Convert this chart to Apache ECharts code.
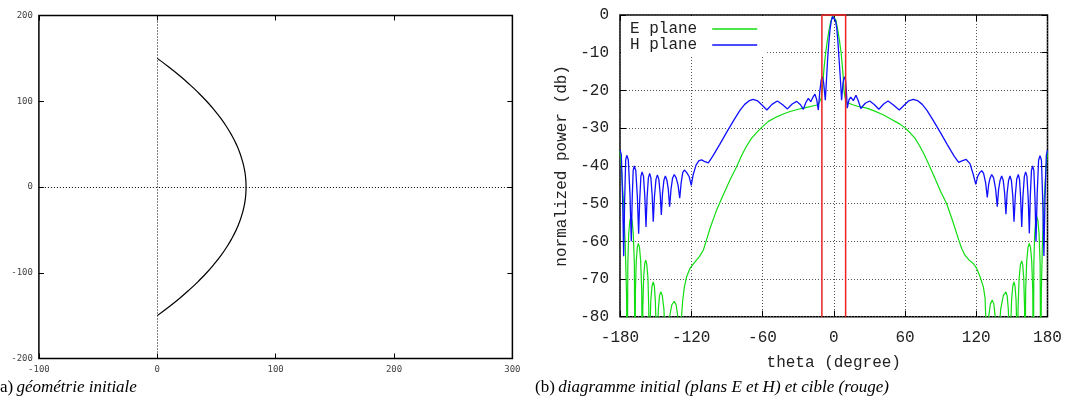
<!DOCTYPE html>
<html><head><meta charset="utf-8">
<script src="https://cdn.jsdelivr.net/npm/echarts/dist/echarts.min.js"></script>
<style>html,body{margin:0;padding:0;background:#fff}#c{width:1067px;height:402px}</style>
</head><body><div id="c"></div>
<script>
// ---- (a) initial geometry ----
const geomY = [150,140,130,120,110,100,90,80,70,60,50,40,30,20,10,0,-10,-20,-30,-40,-50,-60,-70,-80,-90,-100,-110,-120,-130,-140,-150];
const geomX = [0,9.7,18.7,27,34.7,41.7,48,53.7,58.7,63,66.7,69.7,72,73.7,74.7,75,74.7,73.7,72,69.7,66.7,63,58.7,53.7,48,41.7,34.7,27,18.7,9.7,0];
const geomXTicks = [-100, 0, 100, 200, 300];
const geomYTicks = [-200, -100, 0, 100, 200];

// ---- (b) radiation pattern: [theta (deg), power (dB)] ----
const ePlane = [
[-180,-36],[-178.5,-42],[-177,-50],[-175.5,-62],[-174.5,-74],[-173.9,-100],
[-173.4,-66.1],[-172.7,-58.1],[-171.7,-54.5],[-170.8,-53.5],[-169.8,-54.5],[-168.8,-58.1],[-167.9,-66.1],[-167.4,-100],
[-167,-73.2],[-166.3,-65.2],[-165.4,-61.6],[-164.6,-60.6],[-163.6,-61.6],[-162.6,-65.2],[-161.7,-73.2],[-161.2,-100],
[-160.8,-77.6],[-160.1,-69.6],[-159.2,-66],[-158.4,-65],[-157.5,-66],[-156.5,-69.6],[-155.8,-77.6],[-155.3,-100],
[-154.8,-83.4],[-154,-75.4],[-153,-71.8],[-152,-70.8],[-151.1,-71.8],[-150.3,-75.4],[-149.5,-83.4],[-149.1,-100],
[-148.6,-86],[-147.7,-78],[-146.7,-74.4],[-145.7,-73.4],[-144.4,-74.4],[-143,-78],[-142,-86],[-141.3,-100],
[-140.25,-88.5],[-138.5,-80.5],[-136.4,-76.9],[-134.3,-75.9],[-132.7,-76.9],[-131.1,-80.5],[-129.7,-88.5],[-128.9,-100],
[-128.2,-80],[-127.2,-75.7],[-125.8,-72.1],[-123.9,-69.4],[-121.1,-67.2],[-117,-65.5],[-113,-64],[-109.8,-62.3],[-107,-59.5],
[-104.2,-56.6],[-99,-52],[-93.1,-47.7],[-87,-43.5],[-81.9,-40.3],[-77.5,-37.2],[-73.5,-34.8],[-69.3,-32.7],[-65,-31.2],
[-60,-29.6],[-55,-28.2],[-48,-27],[-42,-26.2],[-36.8,-25.6],[-30,-25],[-25.6,-24.7],[-20,-24.3],[-16,-24],[-13.2,-23.8],[-11.6,-23.3],
[-10.5,-22],[-9.6,-20],[-8.8,-16.5],[-8,-13.5],[-6.8,-10],[-5.5,-7],[-4,-4],[-2.5,-1.7],[-1,-0.3],[-0.4,0],[0.3,-0.2],
[1.8,-1.3],[3.3,-3.8],[4.8,-6.8],[6.2,-10],[7.2,-13.5],[8,-16.5],[8.6,-20],[9.6,-22],[11,-23.2],[12.3,-23.5],[16,-23.8],
[20,-24.2],[27.7,-24.7],[33,-25.3],[42,-26.5],[48,-27.6],[55,-28.8],[60.3,-30],[64.5,-31.3],[68.5,-32.7],[72.5,-34.8],
[76.5,-37.2],[81,-40.3],[85.5,-43.5],[90,-46.8],[95,-50],[100,-54.5],[105.3,-59.7],[107.8,-62],[110.5,-63.7],[114,-65],
[117.5,-65.9],[120.4,-67.2],[123.2,-69.4],[126,-72.1],[127.4,-75],[128,-80],[128.3,-100],
[129.1,-88.2],[130.4,-80.2],[131.9,-76.6],[133.5,-75.6],[134.8,-76.6],[136,-80.2],[137.1,-88.2],[137.7,-100],
[138.8,-86],[140.6,-78],[142.8,-74.4],[145,-73.4],[146,-74.4],[147,-78],[147.9,-86],[148.4,-100],
[148.9,-83.4],[149.8,-75.4],[150.8,-71.8],[151.8,-70.8],[152.6,-71.8],[153.5,-75.4],[154.2,-83.4],[154.6,-100],
[155.2,-77.8],[156.1,-69.8],[157.2,-66.2],[158.3,-65.2],[159.1,-66.2],[160,-69.8],[160.7,-77.8],[161.1,-100],
[161.6,-73.2],[162.5,-65.2],[163.6,-61.6],[164.7,-60.6],[165.7,-61.6],[166.7,-65.2],[167.6,-73.2],[168.1,-100],
[168.5,-66.1],[169.2,-58.1],[170.1,-54.5],[170.9,-53.5],[171.9,-54.5],[172.9,-58.1],[173.8,-66.1],[174.3,-100],
[174.8,-74],[175.6,-62],[177,-50],[178.5,-42],[180,-36]
];
const hPlane = [
[-180,-35.8],[-178.9,-37],[-177.8,-48.5],[-176.9,-64],
[-176.1,-49.3],[-175.2,-38.4],[-174.3,-37.2],[-173,-38.4],[-171.6,-47.5],[-170.5,-60],
[-169.75,-49],[-168.9,-41.2],[-168,-40],[-166.7,-41.2],[-165.4,-48.1],[-164.3,-58],
[-163.4,-49],[-162.4,-42.8],[-161.4,-41.6],[-160.2,-42.8],[-159.1,-48.2],[-158.1,-56.2],
[-157.2,-48.4],[-156.1,-43.2],[-155,-42],[-154,-43.2],[-152.9,-47.8],[-152,-54.8],
[-150.95,-48],[-149.7,-43.6],[-148.5,-42.4],[-147.3,-43.6],[-146.2,-47.2],[-145.2,-53],
[-144.2,-47.3],[-143,-43.8],[-141.8,-42.7],[-140.5,-43.8],[-139.3,-46.3],[-138.2,-50.8],
[-137,-46.1],[-135.7,-43.2],[-134.3,-42.3],[-132.7,-43.2],[-131.1,-45.1],[-129.7,-48.6],
[-128.5,-44.5],[-127.2,-41.8],[-125.8,-41.1],[-123.8,-41.8],[-121.7,-42.9],[-120,-45.2],
[-118.5,-42.5],[-116,-39.8],[-113.5,-38.6],[-111.2,-38.4],[-108.5,-38.9],[-105.6,-39.2],
[-102,-37.5],[-96,-34.3],[-90,-31],[-84,-27.8],[-79,-25.3],[-75,-23.7],[-71,-22.7],[-68,-22.4],[-64,-22.8],[-60,-24],
[-56.3,-25.2],[-52,-23.7],[-47.5,-22.8],[-43,-23.8],[-39,-24.9],[-35,-23.6],[-31.2,-22.9],[-28,-23.8],[-25.6,-25],
[-23.5,-23.2],[-21.4,-22.1],[-19.4,-23],[-17.5,-21.8],[-15.8,-21],[-14.3,-22.5],[-13,-25.2],[-11.8,-20.5],[-10.6,-17.2],
[-9.6,-16.4],[-8.5,-18],[-7.1,-22.6],[-6,-16.5],[-5.1,-11.4],[-4,-6.8],[-3,-3.5],[-2,-1.5],[-1,-0.4],[-0.3,-0.1],
[0.5,-0.4],[1.5,-1.5],[2.5,-3.5],[3.5,-7],[4.4,-11.4],[5.5,-16.5],[6.6,-22.6],[7.8,-18],[8.9,-16.4],[9.9,-17.2],
[10.6,-20],[11.4,-24.7],[12.8,-22.5],[14.3,-21.8],[16.5,-22.7],[18.7,-21.3],[20.5,-22.6],[22.8,-24.8],[26.5,-23.4],
[30.3,-22.8],[34.3,-23.8],[38,-25],[42,-23.6],[45.7,-22.8],[50,-23.8],[55.2,-25.2],[59,-24],[63,-22.8],[67,-22.4],
[70.5,-22.7],[74.5,-23.7],[78.5,-25.3],[83.5,-27.8],[89.5,-31],[95.5,-34.3],[101.5,-37.5],[105.2,-39.1],[108.5,-38.6],
[111.5,-38.3],[114.7,-39.4],[117.5,-42.3],[119.6,-44.9],
[121.1,-42.9],[122.9,-41.8],[124.6,-41.3],[126.2,-42],[127.9,-44.5],[129.3,-48.4],
[130.4,-45],[131.7,-43.2],[133,-42.3],[134.6,-43.2],[136.3,-46.1],[137.7,-50.8],
[138.8,-46.3],[140.1,-43.8],[141.4,-42.7],[142.7,-43.8],[143.9,-47.2],[145,-52.8],
[146,-47.2],[147.2,-43.9],[148.4,-42.7],[149.6,-43.9],[150.8,-48.1],[151.8,-54.8],
[152.9,-47.9],[154.1,-43.5],[155.4,-42.3],[156.4,-43.5],[157.4,-48.6],[158.3,-56.2],
[159.3,-48.2],[160.5,-42.8],[161.6,-41.6],[162.7,-42.8],[163.8,-48.9],[164.7,-57.9],
[165.5,-48.1],[166.5,-41.2],[167.5,-40],[168.5,-41.2],[169.5,-49],[170.3,-60.1],
[171.3,-47.6],[172.5,-38.5],[173.7,-37.3],[174.9,-38.5],[176,-49.3],[177,-63.9],
[177.9,-48.5],[179,-37.3],[180,-35.8]
];
const targetTheta = [-10, -10, 10, 10];
const targetDb = [-80, 0, 0, -80];
const thetaTicks = [-180, -120, -60, 0, 60, 120, 180];
const dbTicks = [-80, -70, -60, -50, -40, -30, -20, -10, 0];

const MONO = 'Liberation Mono';
function ax(extra) {
  return Object.assign({
    type: 'value',
    axisLine: { show: false, onZero: false },
    axisTick: { show: true, inside: true, length: 5, lineStyle: { color: '#000', width: 1 } },
    splitLine: { show: false },
    axisLabel: { show: false }
  }, extra);
}
const smallLabel = { show: true, fontFamily: 'DejaVu Sans Mono', fontSize: 9, color: '#444' };
const bigLabel = { show: true, fontFamily: MONO, fontSize: 16, color: '#222' };
const gridSplit = { show: true, lineStyle: { color: '#555', type: [1, 2], width: 1 } };
const bigTick = { show: true, inside: true, length: 6, lineStyle: { color: '#000' } };

const chart = echarts.init(document.getElementById('c'), null, { renderer: 'canvas' });
chart.setOption({
  animation: false,
  backgroundColor: '#fff',
  grid: [
    { left: 38.9, top: 15.5, width: 473.5, height: 343, show: true, borderColor: '#000', borderWidth: 1.5, backgroundColor: 'transparent', outerBoundsMode: 'none', containLabel: false },
    { left: 620, top: 15, width: 427.5, height: 301.7, show: true, borderColor: '#000', borderWidth: 1.5, backgroundColor: 'transparent', outerBoundsMode: 'none', containLabel: false }
  ],
  xAxis: [
    ax({ gridIndex: 0, position: 'bottom', min: geomXTicks[0], max: geomXTicks[geomXTicks.length - 1], interval: geomXTicks[1] - geomXTicks[0], axisLabel: Object.assign({ margin: 7 }, smallLabel) }),
    ax({ gridIndex: 0, position: 'top', min: geomXTicks[0], max: geomXTicks[geomXTicks.length - 1], interval: geomXTicks[1] - geomXTicks[0] }),
    ax({ gridIndex: 1, position: 'bottom', min: thetaTicks[0], max: thetaTicks[thetaTicks.length - 1], interval: thetaTicks[1] - thetaTicks[0],
         axisTick: bigTick, splitLine: gridSplit, axisLabel: Object.assign({ margin: 13 }, bigLabel),
         name: 'theta (degree)', nameLocation: 'middle', nameGap: 38, nameTextStyle: { fontFamily: MONO, fontSize: 16, color: '#222' } }),
    ax({ gridIndex: 1, position: 'top', min: thetaTicks[0], max: thetaTicks[thetaTicks.length - 1], interval: thetaTicks[1] - thetaTicks[0], axisTick: bigTick })
  ],
  yAxis: [
    ax({ gridIndex: 0, position: 'left', min: geomYTicks[0], max: geomYTicks[geomYTicks.length - 1], interval: geomYTicks[1] - geomYTicks[0], axisLabel: Object.assign({ margin: 6 }, smallLabel) }),
    ax({ gridIndex: 0, position: 'right', min: geomYTicks[0], max: geomYTicks[geomYTicks.length - 1], interval: geomYTicks[1] - geomYTicks[0] }),
    ax({ gridIndex: 1, position: 'left', min: dbTicks[0], max: dbTicks[dbTicks.length - 1], interval: dbTicks[1] - dbTicks[0],
         axisTick: bigTick, splitLine: gridSplit, axisLabel: Object.assign({ margin: 11 }, bigLabel),
         name: 'normalized power (db)', nameLocation: 'middle', nameGap: 50, nameTextStyle: { fontFamily: MONO, fontSize: 16, color: '#222' } }),
    ax({ gridIndex: 1, position: 'right', min: dbTicks[0], max: dbTicks[dbTicks.length - 1], interval: dbTicks[1] - dbTicks[0], axisTick: bigTick })
  ],
  legend: {
    data: ['E plane', 'H plane'],
    orient: 'vertical', left: 621, top: 16, align: 'right',
    icon: 'rect', itemWidth: 45, itemHeight: 1.5, itemGap: 0,
    padding: [5, 10, 2, 9], backgroundColor: '#fff',
    textStyle: { fontFamily: MONO, fontSize: 16, color: '#222', lineHeight: 16, padding: [0, 10, 0, 0] }
  },
  series: [
    {
      type: 'line', xAxisIndex: 0, yAxisIndex: 0, symbol: 'none', smooth: true,
      data: geomX.map((x, i) => [x, geomY[i]]),
      lineStyle: { color: '#000', width: 1.2 },
      markLine: {
        silent: true, symbol: 'none', label: { show: false },
        lineStyle: { color: '#000', type: [1, 2], width: 1 },
        data: [{ xAxis: 0 }, { yAxis: 0 }]
      }
    },
    {
      name: 'E plane', type: 'line', xAxisIndex: 2, yAxisIndex: 2, symbol: 'none',
      data: ePlane, lineStyle: { color: '#11dd11', width: 1.2 }, itemStyle: { color: '#11dd11' }
    },
    {
      name: 'H plane', type: 'line', xAxisIndex: 2, yAxisIndex: 2, symbol: 'none',
      data: hPlane, lineStyle: { color: '#1010ff', width: 1.3 }, itemStyle: { color: '#1010ff' }
    },
    {
      name: 'target', type: 'line', xAxisIndex: 2, yAxisIndex: 2, symbol: 'none', clip: false,
      data: targetTheta.map((t, i) => [t, targetDb[i]]),
      lineStyle: { color: '#ee2222', width: 1.5 }, z: 5
    }
  ],
  graphic: [
    { type: 'text', x: -5.7, y: 388, style: {
      text: '{n|(a)} {i|géométrie initiale}', verticalAlign: 'middle', fill: '#000',
      rich: { n: { fontFamily: 'Liberation Serif', fontSize: 17 }, i: { fontFamily: 'Liberation Serif', fontSize: 17, fontStyle: 'italic' } } } },
    { type: 'text', x: 535, y: 388, style: {
      text: '{n|(b)} {i|diagramme initial (plans E et H) et cible (rouge)}', verticalAlign: 'middle', fill: '#000',
      rich: { n: { fontFamily: 'Liberation Serif', fontSize: 17 }, i: { fontFamily: 'Liberation Serif', fontSize: 17, fontStyle: 'italic' } } } }
  ]
});
</script>
</body></html>
